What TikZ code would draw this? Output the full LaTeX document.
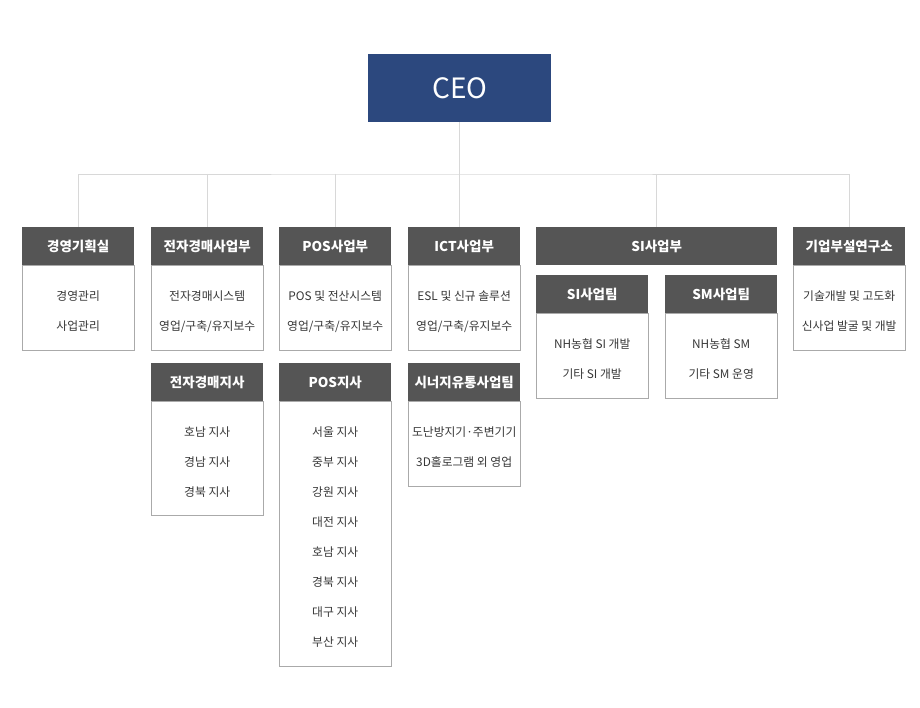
\documentclass[tikz,border=0pt]{standalone}
\usepackage{fontspec}
\setmainfont{Noto Sans CJK KR}
\definecolor{ceoblue}{RGB}{44,72,126}
\definecolor{hdgray}{RGB}{85,85,85}
\definecolor{bdline}{RGB}{170,170,170}
\definecolor{bdtext}{RGB}{55,55,55}
\definecolor{conn}{RGB}{216,216,216}
\newcommand\bdtop{\rule{0pt}{16pt}}
\begin{document}
\begin{tikzpicture}[x=1pt, y=-1pt,
    ceo/.style ={fill=ceoblue, text=white, font=\fontsize{28}{30}\selectfont, minimum width=183pt, minimum height=68pt, inner sep=0pt},
    hd/.style  ={fill=hdgray, text=white, font=\fontsize{13.5}{15}\selectfont\bfseries, minimum width=112pt, minimum height=38pt, inner sep=0pt, anchor=north west},
    bd/.style  ={draw=bdline, fill=white, text=bdtext, font=\fontsize{11.8}{30}\selectfont, align=center, minimum width=112pt, inner sep=0pt, anchor=north},
    link/.style={draw=conn, line width=0.8pt},
  ]
  \useasboundingbox (0,0) rectangle (920,708);
  \node[ceo, anchor=north west] (ceo) at (368,54) {CEO};

  % first row
  \node[hd] (plan) at (22,227) {경영기획실};
  \node[bd, minimum height=85pt] (planb) at (plan.south) {\bdtop 경영관리\\사업관리};
  \node[hd] (auct) at (151,227) {전자경매사업부};
  \node[bd, minimum height=85pt] (auctb) at (auct.south) {\bdtop 전자경매시스템\\영업/구축/유지보수};
  \node[hd] (pos) at (279,227) {POS사업부};
  \node[bd, minimum height=85pt] (posb) at (pos.south) {\bdtop POS 및 전산시스템\\영업/구축/유지보수};
  \node[hd] (ict) at (408,227) {ICT사업부};
  \node[bd, minimum height=85pt] (ictb) at (ict.south) {\bdtop ESL 및 신규 솔루션\\영업/구축/유지보수};
  \node[hd, minimum width=241pt] (si) at (536,227) {SI사업부};
  \node[hd] (lab) at (793,227) {기업부설연구소};
  \node[bd, minimum height=85pt] (labb) at (lab.south) {\bdtop 기술개발 및 고도화\\신사업 발굴 및 개발};

  % SI teams
  \node[hd] (siteam) at (536,275) {SI사업팀};
  \node[bd, minimum height=85pt] (siteamb) at (siteam.south) {\bdtop NH농협 SI 개발\\기타 SI 개발};
  \node[hd] (smteam) at (665,275) {SM사업팀};
  \node[bd, minimum height=85pt] (smteamb) at (smteam.south) {\bdtop NH농협 SM\\기타 SM 운영};

  % second row
  \node[hd] (auctbr) at (151,363) {전자경매지사};
  \node[bd, minimum height=114pt] (auctbrb) at (auctbr.south) {\bdtop 호남 지사\\경남 지사\\경북 지사};
  \node[hd] (posbr) at (279,363) {POS지사};
  \node[bd, minimum height=265pt] (posbrb) at (posbr.south) {\bdtop 서울 지사\\중부 지사\\강원 지사\\대전 지사\\호남 지사\\경북 지사\\대구 지사\\부산 지사};
  \node[hd] (syn) at (408,363) {시너지유통사업팀};
  \node[bd, minimum height=85pt] (synb) at (syn.south) {\bdtop 도난방지기·주변기기\\3D홀로그램 외 영업};

  % connectors
  \coordinate (bus) at (ceo.south |- 0,174);
  \draw[link] (ceo.south) -- (ceo.south |- ict.north);
  \draw[link] (plan.north) |- (bus) -| (lab.north);
  \foreach \d in {auct,pos,si}
    \draw[link] (bus -| \d.north) -- (\d.north);
\end{tikzpicture}
\end{document}
